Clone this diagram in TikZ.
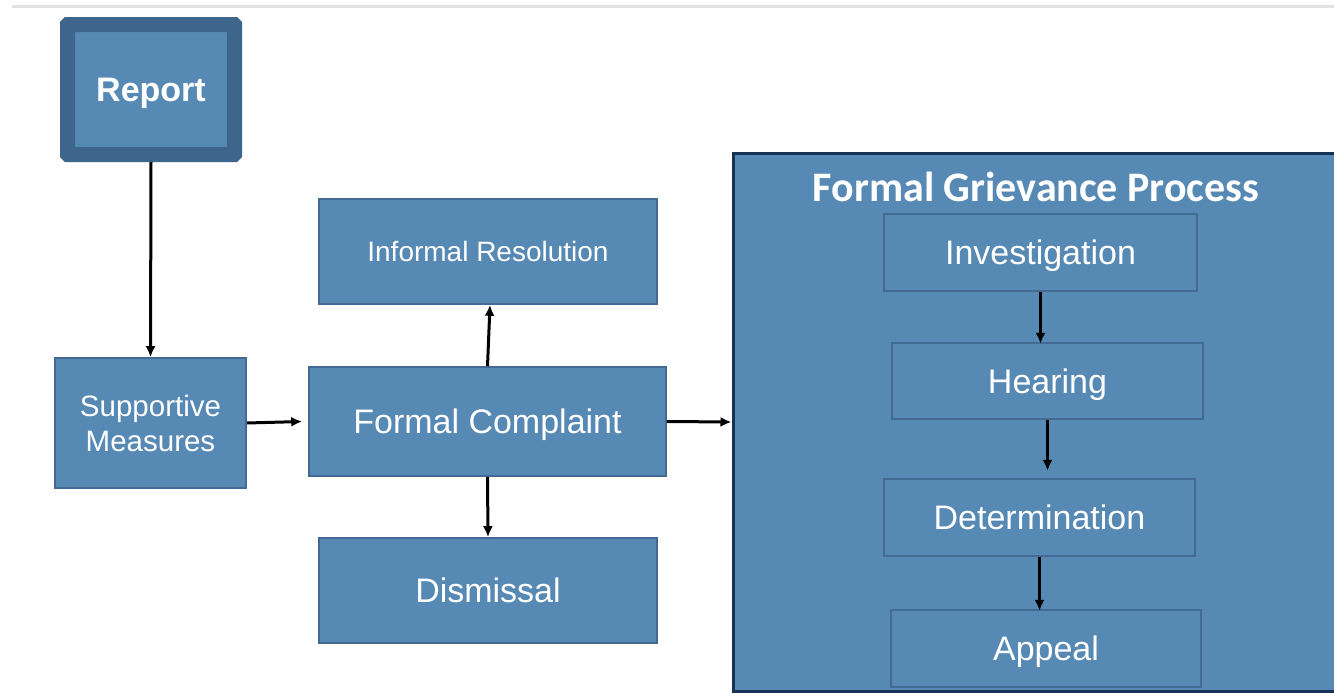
\documentclass[tikz,border=0pt]{standalone}
\usepackage{fontspec}
\setmainfont{Liberation Sans}
\newfontfamily\titlefont{Carlito}
\usetikzlibrary{arrows.meta}

\definecolor{boxfill}{RGB}{87,137,181}
\definecolor{boxline}{RGB}{66,106,146}
\definecolor{reportline}{RGB}{62,102,140}
\definecolor{frameline}{RGB}{22,50,84}
\definecolor{rulegray}{RGB}{226,226,226}

\begin{document}
\begin{tikzpicture}[x=1pt, y=-1pt,
    stepbox/.style={draw=boxline, line width=1.6, fill=boxfill, text=white,
        inner sep=0, align=center, text height=24.3pt, text depth=0pt,
        font=\fontsize{34}{40}\selectfont},
    flow/.style={line width=3, -{Latex[length=11pt,width=10pt]}}]
    \useasboundingbox (0,0) rectangle (1334,696);

    % Thin rule along the top edge
    \draw[rulegray, line width=3.5] (12,6.5) -- (1340,6.5);

    % Report box with thick rounded frame
    \node[stepbox, draw=reportline, line width=15, rounded corners=0.5,
        minimum width=167, minimum height=130,
        font=\bfseries\fontsize{34}{40}\selectfont] (report) at (151,89.5) {Report};

    % Left column
    \node[stepbox, text height=, text depth=, minimum width=191, minimum height=130,
        font=\fontsize{29.5}{35}\selectfont] (support) at (150.5,423) {Supportive\\Measures};

    % Middle column
    \node[stepbox, text height=20pt, minimum width=338, minimum height=105,
        font=\fontsize{28}{34}\selectfont] (informal) at (488,251.5) {Informal Resolution};
    \node[stepbox, minimum width=357, minimum height=109] (complaint) at (487.5,421.5) {Formal Complaint};
    \node[stepbox, minimum width=338, minimum height=105] (dismissal) at (488,590.5) {Dismissal};

    % Formal grievance process frame (runs off the right edge)
    \node[draw=frameline, line width=3, fill=boxfill, inner sep=0,
        minimum width=610, minimum height=538] (grievance) at (1038,422) {};
    \node[text=white, font=\titlefont\bfseries\fontsize{42}{48}\selectfont] (title) at (1036,187) {Formal Grievance Process};

    % Steps inside the frame
    \node[stepbox, minimum width=313, minimum height=77] (investigation) at (1040.5,252.5) {Investigation};
    \node[stepbox, minimum width=311, minimum height=76] (hearing) at (1047.5,381) {Hearing};
    \node[stepbox, minimum width=311, minimum height=77] (determination) at (1039.5,517.5) {Determination};
    \node[stepbox, minimum width=310, minimum height=77] (appeal) at (1046,648.5) {Appeal};

    % Arrows
    \draw[flow] (report.south) -- (support.north);
    \draw[flow] (support.east) -- ([xshift=-6]complaint.west);
    \draw[flow] (complaint.north) -- ([xshift=2]informal.south);
    \draw[flow] (complaint.south) -- (dismissal.north);
    \draw[flow] (complaint.east) -- (grievance.west);
    \draw[flow] (investigation.south) -- ++(0,52);
    \draw[flow] (hearing.south) -- ++(0,51);
    \draw[flow] (determination.south) -- ++(0,54);
\end{tikzpicture}
\end{document}
